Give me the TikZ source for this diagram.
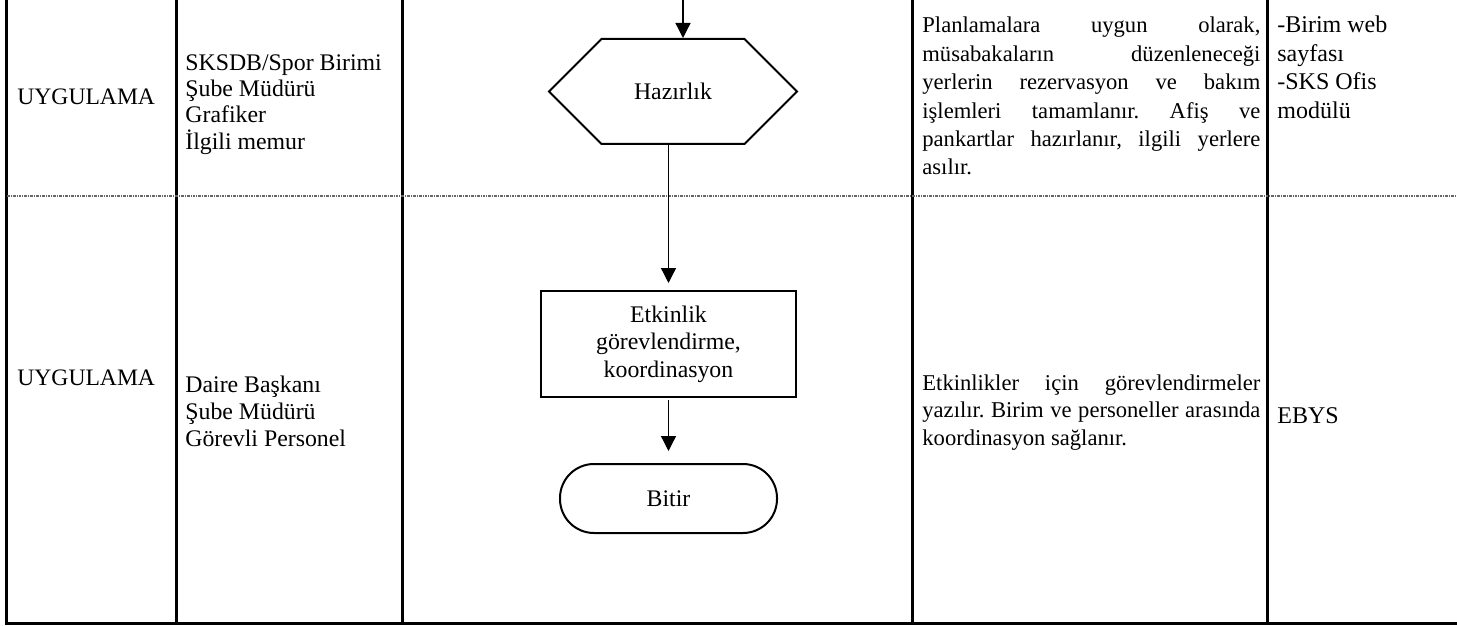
\documentclass[tikz,border=0pt]{standalone}
\usepackage{fontspec}
\setmainfont{Liberation Serif}
\usepackage{tikz}
\usetikzlibrary{arrows,arrows.meta,calc,positioning,shapes.symbols}

\begin{document}
\begin{tikzpicture}[x=0.5pt,y=-0.5pt,
  rule/.style={line width=1.5pt},
  sep/.style={gray!80!black, line width=0.6pt, dash pattern=on 1.4pt off 0.5pt on 0.5pt off 0.5pt},
  box/.style={draw, line width=1pt, align=center, font=\fontsize{11.9}{13.75}\selectfont},
  flow/.style={-{Triangle[width=7.5pt,length=7.5pt]}, line width=0.65pt},
  cell/.style={anchor=base west, inner sep=0pt, align=left},
  desc/.style={anchor=base west, inner sep=0pt, text width=169pt, align=justify,
    execute at begin node={\tolerance=10000\relax\hyphenpenalty=10000\relax\frenchspacing}}]
\pgfmathsetmacro{\yM}{196}
\pgfmathsetmacro{\yB}{623}
\useasboundingbox (0,0) rectangle (1457,626);

\draw[rule] (6,0) -- (6,\yB) -- (1457,\yB);
\foreach \x in {176,402,912,1267}{
  \draw[rule] (\x,0) -- (\x,\yB);
}
\draw[sep] (7,\yM) -- (1457,\yM);

% multi-line cells sit on their last baseline
\node[cell, font=\fontsize{11.8}{13}\selectfont] (u1) at (17,104.6) {UYGULAMA};
\node[cell, font=\fontsize{11.8}{13}\selectfont] (u2) at (17,385.6) {UYGULAMA};
\node[cell, font=\fontsize{11.9}{13.15}\selectfont] (r1) at (185,149) {SKSDB/Spor Birimi\\Şube Müdürü\\Grafiker\\İlgili memur};
\node[cell, font=\fontsize{11.9}{13.5}\selectfont] (r2) at (185,446.6) {Daire Başkanı\\Şube Müdürü\\Görevli Personel};

\node[box, signal, signal to=west and east, signal pointer angle=90,
  minimum width=124pt, minimum height=52.5pt] (hzr) at (673,91.5) {Hazırlık};
\node[box, minimum width=127.5pt, minimum height=53pt] (gor) at (668.5,344) {Etkinlik\\görevlendirme,\\koordinasyon};
\node[box, rounded corners=17pt, minimum width=108.5pt, minimum height=34.5pt] (bit) at (668.5,498.5) {Bitir};

\coordinate (in) at (683,0);
\draw[flow] (in) -- (in |- hzr.north);
\draw[flow, shorten >=3.5pt] (hzr.south -| gor.north) -- (gor.north);
\draw[flow, shorten <=1pt, shorten >=6pt] (gor.south) -- (bit.north);

\node[desc, font=\fontsize{11.3}{14.2}\selectfont] (a1) at (922,33)
  {Planlamalara uygun olarak,\linebreak müsabakaların düzenleneceği\linebreak yerlerin rezervasyon ve bakım\linebreak işlemleri tamamlanır. Afiş ve\linebreak pankartlar hazırlanır, ilgili yerlere\linebreak asılır.};
\node[cell, font=\fontsize{12}{14.2}\selectfont] (s1) at (1277,118.2) {-Birim web\\sayfası\\-SKS Ofis\\modülü};
\node[desc, font=\fontsize{11.3}{13.75}\selectfont] (a2) at (922,390)
  {Etkinlikler için görevlendirmeler\linebreak yazılır. Birim ve personeller arasında\linebreak koordinasyon sağlanır.};
\node[cell, font=\fontsize{12}{14}\selectfont] (s2) at (1277,423) {EBYS};
\end{tikzpicture}
\end{document}
